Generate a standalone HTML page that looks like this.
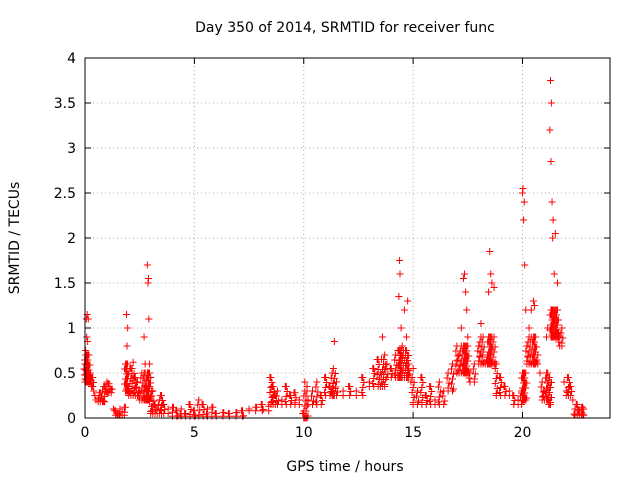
<!DOCTYPE html>
<html><head><meta charset="utf-8"><style>
body{margin:0;background:#fff}
svg text{font-family:"DejaVu Sans","Liberation Sans",sans-serif;font-size:14px;fill:#000}
</style></head><body>
<svg id="c" width="640" height="480" xmlns="http://www.w3.org/2000/svg">
<rect width="640" height="480" fill="#fff"/>
<text x="345" y="32" text-anchor="middle">Day 350 of 2014, SRMTID for receiver func</text>
<text x="345" y="471" text-anchor="middle">GPS time / hours</text>
<text transform="translate(19,238) rotate(-90)" text-anchor="middle">SRMTID / TECUs</text>
<g id="grid"></g>
<g id="ticks"></g>
<g id="pts"></g>
<rect x="85" y="58" width="525" height="360" fill="none" stroke="#000"/>
</svg>
<script>
const xTicks=[0,5,10,15,20];
const yTicks=[0,0.5,1,1.5,2,2.5,3,3.5,4];
const yTickLabels=["0","0.5","1","1.5","2","2.5","3","3.5","4"];
const times=[0,0.03,0.06,0.08,0.1,0.12,0.15,0.18,0.2,0.22,0.25,0.28,0.3,0.35,0.4,0.45,0.5,0.6,0.7,0.8,0.9,1.0,1.1,1.2,1.3,1.4,1.5,1.6,1.7,1.8,1.85,1.9,1.92,1.95,2.0,2.1,2.2,2.3,2.4,2.5,2.6,2.7,2.75,2.8,2.85,2.88,2.9,2.92,2.95,3.0,3.1,3.2,3.3,3.4,3.5,3.6,3.8,4.0,4.2,4.4,4.6,4.8,5.0,5.2,5.4,5.6,5.8,6.0,6.3,6.6,6.9,7.2,7.5,7.8,8.1,8.4,8.5,8.6,8.7,8.8,9.0,9.2,9.4,9.6,9.8,10.0,10.05,10.1,10.15,10.2,10.4,10.6,10.8,11.0,11.2,11.3,11.35,11.4,11.5,11.8,12.1,12.4,12.7,13.0,13.2,13.4,13.5,13.6,13.7,13.8,14.0,14.2,14.3,14.35,14.38,14.4,14.45,14.5,14.6,14.7,14.75,14.8,14.9,15.0,15.2,15.4,15.6,15.8,16.0,16.2,16.4,16.6,16.8,17.0,17.1,17.2,17.3,17.35,17.4,17.45,17.5,17.6,17.8,18.0,18.1,18.2,18.3,18.4,18.45,18.5,18.55,18.6,18.7,18.8,19.0,19.2,19.4,19.6,19.8,19.95,20.0,20.02,20.05,20.08,20.1,20.15,20.2,20.3,20.4,20.5,20.55,20.6,20.7,20.8,20.9,21.0,21.1,21.15,21.2,21.25,21.28,21.3,21.32,21.35,21.38,21.4,21.45,21.5,21.55,21.6,21.65,21.7,21.8,21.9,22.0,22.1,22.2,22.3,22.4,22.5,22.6,22.7,22.8];
const values=[0.6,0.75,1.1,0.9,1.15,0.85,1.1,0.7,0.5,0.45,0.5,0.45,0.4,0.45,0.3,0.25,0.2,0.22,0.28,0.3,0.35,0.4,0.38,0.32,0.1,0.08,0.05,0.1,0.07,0.12,0.6,1.15,0.8,1.0,0.35,0.55,0.62,0.45,0.4,0.3,0.5,0.9,0.6,0.35,1.7,1.5,1.55,1.1,0.6,0.45,0.3,0.15,0.1,0.2,0.25,0.15,0.1,0.12,0.08,0.1,0.05,0.15,0.08,0.2,0.15,0.1,0.12,0.05,0.06,0.05,0.06,0.08,0.1,0.12,0.15,0.13,0.45,0.35,0.25,0.3,0.2,0.35,0.25,0.28,0.2,0.05,0.4,0.0,0.35,0.2,0.3,0.4,0.25,0.45,0.35,0.5,0.3,0.85,0.4,0.3,0.35,0.3,0.45,0.4,0.55,0.65,0.5,0.9,0.7,0.6,0.55,0.7,0.5,1.35,1.75,1.6,1.0,0.8,1.2,0.9,1.3,0.6,0.4,0.55,0.3,0.45,0.25,0.35,0.2,0.4,0.3,0.5,0.6,0.8,0.7,1.0,1.55,1.6,1.4,1.2,0.9,0.5,0.6,0.8,1.05,0.9,0.6,0.7,1.4,1.85,1.6,1.5,1.45,0.6,0.45,0.35,0.3,0.25,0.2,0.3,2.5,2.55,2.2,2.4,1.7,1.2,0.8,1.0,1.2,1.3,1.25,0.9,0.7,0.5,0.4,0.3,0.9,1.0,0.2,3.2,3.75,2.85,3.5,2.4,2.0,2.2,1.6,2.05,1.2,1.5,0.95,0.9,1.0,0.4,0.3,0.45,0.35,0.2,0.1,0.15,0.08,0.12,0.1];
// lower envelope of the point cloud, by time band
const bandStarts=[0,0.3,0.6,1.0,1.4,1.85,2.0,2.5,3.0,3.4,4,5,6,7.5,8.5,9.5,10,10.2,11,11.5,13,13.8,14.3,15,16.5,17.0,17.6,18.0,18.8,19.5,20.0,20.2,20.9,21.2,21.3,21.7,22.0,22.4];
const bandLows=[0.4,0.35,0.18,0.28,0.03,0.3,0.25,0.2,0.05,0.05,0.02,0.02,0.02,0.08,0.15,0.15,0.0,0.15,0.25,0.25,0.35,0.45,0.45,0.15,0.3,0.5,0.4,0.6,0.25,0.15,0.2,0.6,0.2,0.15,0.9,0.8,0.25,0.03];
const X0=85,X1=610,Y0=418,Y1=58;
const xs=v=>X0+v/24*(X1-X0);
const ys=v=>Y0-v/4*(Y0-Y1);
const lowAt=t=>{let l=bandLows[0];bandStarts.forEach((s,i)=>{if(t>=s)l=bandLows[i];});return l;};
const ns="http://www.w3.org/2000/svg";
const grid=document.getElementById('grid'),ticks=document.getElementById('ticks'),pts=document.getElementById('pts');
function mk(tag,a,p){const e=document.createElementNS(ns,tag);for(const k in a)e.setAttribute(k,a[k]);p.appendChild(e);return e;}
xTicks.forEach(t=>{const x=xs(t);
 const g=mk('line',{x1:x,x2:x,y1:Y1,y2:Y0,stroke:'#aaa','stroke-dasharray':'1,3'},grid);
 
 mk('line',{x1:x,x2:x,y1:Y0,y2:Y0-6,stroke:'#000'},ticks);mk('line',{x1:x,x2:x,y1:Y1,y2:Y1+6,stroke:'#000'},ticks);
 const l=mk('text',{x:x,y:Y0+19,'text-anchor':'middle'},ticks);l.textContent=t;
 });
yTicks.forEach((t,i)=>{const y=ys(t);
 const g=mk('line',{x1:X0,x2:X1,y1:y,y2:y,stroke:'#aaa','stroke-dasharray':'1,3'},grid);
 
 mk('line',{x1:X0,x2:X0+6,y1:y,y2:y,stroke:'#000'},ticks);mk('line',{x1:X1,x2:X1-6,y1:y,y2:y,stroke:'#000'},ticks);
 const l=mk('text',{x:X0-9,y:y+5,'text-anchor':'end'},ticks);l.textContent=yTickLabels[i];
 });
let d='';
const mark=(x,y)=>{d+=`M${x-3.5},${y}h7M${x},${y-3.5}v7`;};
times.forEach((t,i)=>{const x=xs(t),yh=ys(values[i]);
 const lo=Math.min(lowAt(t),values[i]);const yl=ys(lo);
 const top=Math.max(yh,ys(lo+0.3));
 mark(x,yh);
 for(let y=top;y<yl;y+=5)mark(x+((Math.round(y)%3)-1),y);
 if(yl>yh)mark(x,yl);});
const p=mk('path',{d:d,stroke:'#f00','stroke-width':1,fill:'none'},pts);


</script>
</body></html>
